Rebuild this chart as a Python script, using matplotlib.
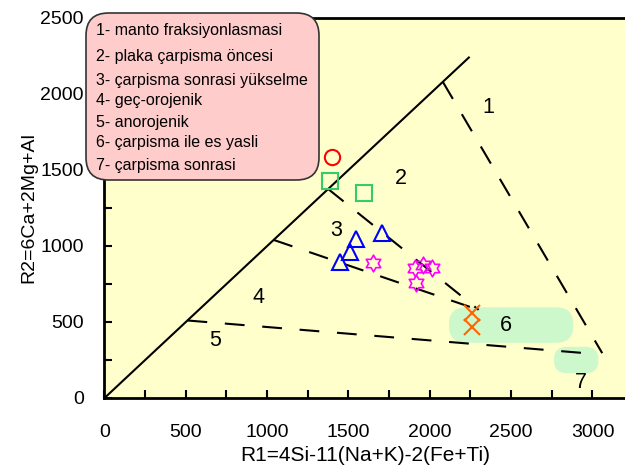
import matplotlib
matplotlib.use("Agg")
import matplotlib.pyplot as plt
from matplotlib.patches import FancyBboxPatch
from matplotlib.path import Path
import numpy as np

plt.rcParams['font.family'] = ['Liberation Sans', 'DejaVu Sans']

# ---- data ----
# boundary lines (solid diagonal and dashed field boundaries)
solid_x = [0, 2240]
solid_y = [0, 2240]
dash_lines = [
    ([2080, 3060], [2080, 295]),   # 1/2
    ([1375, 2300], [1375, 580]),   # 2/3
    ([1040, 2300], [1040, 580]),   # 3/4
    ([510, 2945], [510, 296]),     # 4/5
]
field_labels = ['1', '2', '3', '4', '5', '6', '7']
field_x = [2360, 1825, 1425, 946, 680, 2465, 2926]
field_y = [1914, 1447, 1105, 664, 375, 480, 105]

# shaded fields 6 and 7 (center x, center y, width, height)
blob_cx = [2500, 2900]
blob_cy = [480, 250]
blob_w = [750, 260]
blob_h = [220, 160]

circle_x = [1400]
circle_y = [1585]
square_x = [1388, 1597]
square_y = [1428, 1349]
tri_x = [1548, 1511, 1448, 1703]
tri_y = [1046, 960, 895, 1085]
star_x = [1652, 1911, 1960, 2015, 1917]
star_y = [888, 855, 875, 855, 757]
cross_x = [2262, 2262]
cross_y = [559, 467]

legend_items = ['1- manto fraksiyonlasmasi', '2- plaka çarpisma öncesi',
                '3- çarpisma sonrasi yükselme', '4- geç-orojenik',
                '5- anorojenik', '6- çarpisma ile es yasli', '7- çarpisma sonrasi']

xticks = [0, 500, 1000, 1500, 2000, 2500, 3000]
yticks = [0, 500, 1000, 1500, 2000, 2500]

# ---- figure ----
fig = plt.figure(figsize=(6.25, 4.68), dpi=100)
ax = fig.add_axes([104.5 / 625, 70 / 468, 1 - 104.5 / 625, 380 / 468])
ax.set_facecolor('#ffffcc')
ax.set_xlim(0, 3200)
ax.set_ylim(0, 2500)

for cx, cy, w, h in zip(blob_cx, blob_cy, blob_w, blob_h):
    p = FancyBboxPatch((cx - w / 2, cy - h / 2), w, h,
                       boxstyle="round,pad=0,rounding_size=%g" % (h / 2 * 0.9),
                       mutation_aspect=1.0,
                       facecolor='#ccf8cc', edgecolor='#ccf8cc', lw=1.5, zorder=1)
    ax.add_patch(p)

ax.plot(solid_x, solid_y, color='black', lw=1.5, zorder=2)
for xs, ys in dash_lines:
    ax.plot(xs, ys, color='black', lw=1.5, dashes=(9.5, 8.5), zorder=2)

for t, x, y in zip(field_labels, field_x, field_y):
    ax.text(x, y, t, fontsize=15.5, ha='center', va='center', zorder=3)

ms = 11
ax.plot(circle_x, circle_y, 'o', ms=ms, mfc='none', mec='#ff0000', mew=1.5, zorder=4)
ax.plot(square_x, square_y, 's', ms=ms, mfc='none', mec='#33cc66', mew=1.5, zorder=4)
ax.plot(tri_x, tri_y, '^', ms=ms, mfc='none', mec='#0000ff', mew=1.5, zorder=4)
star = Path.unit_regular_star(6, 0.577)
ax.plot(star_x, star_y, marker=star, ls='none', ms=12, mfc='none', mec='#ff00ff', mew=1.2, zorder=4)
ax.plot(cross_x, cross_y, 'x', ms=ms, mfc='none', mec='#ff6600', mew=1.5, zorder=4)

ax.set_xticks(xticks)
ax.set_yticks(yticks)
ax.set_xticks(np.arange(250, 3200, 500), minor=True)
ax.set_yticks(np.arange(250, 2500, 500), minor=True)
ax.tick_params(which='both', direction='in', length=6, width=1.5, labelsize=14)
ax.tick_params(axis='x', which='major', pad=19)
ax.tick_params(axis='y', which='major', pad=15)
ax.set_xlabel('R1=4Si-11(Na+K)-2(Fe+Ti)', fontsize=15, labelpad=3)
ax.set_ylabel('R2=6Ca+2Mg+Al', fontsize=14, labelpad=2)
for s in ['left', 'bottom', 'top']:
    ax.spines[s].set_linewidth(2)
ax.spines['right'].set_visible(False)

# legend box in figure pixels
bx0, by0, bx1, by1 = 86, 468 - 180, 319, 468 - 13
box = FancyBboxPatch((bx0 / 625, by0 / 468), (bx1 - bx0) / 625, (by1 - by0) / 468,
                     boxstyle="round,pad=0,rounding_size=0.036",
                     mutation_aspect=625 / 468,
                     transform=fig.transFigure, facecolor='#ffcccc',
                     edgecolor='#333333', lw=1.2, zorder=10, clip_on=False)
fig.patches.append(box)
line_y = [30, 57, 80, 101, 122, 143, 165]
for t, y in zip(legend_items, line_y):
    fig.text(96 / 625, 1 - y / 468, t, fontsize=11.5, ha='left', va='center', zorder=11)

fig.savefig('out.png', dpi=100)
